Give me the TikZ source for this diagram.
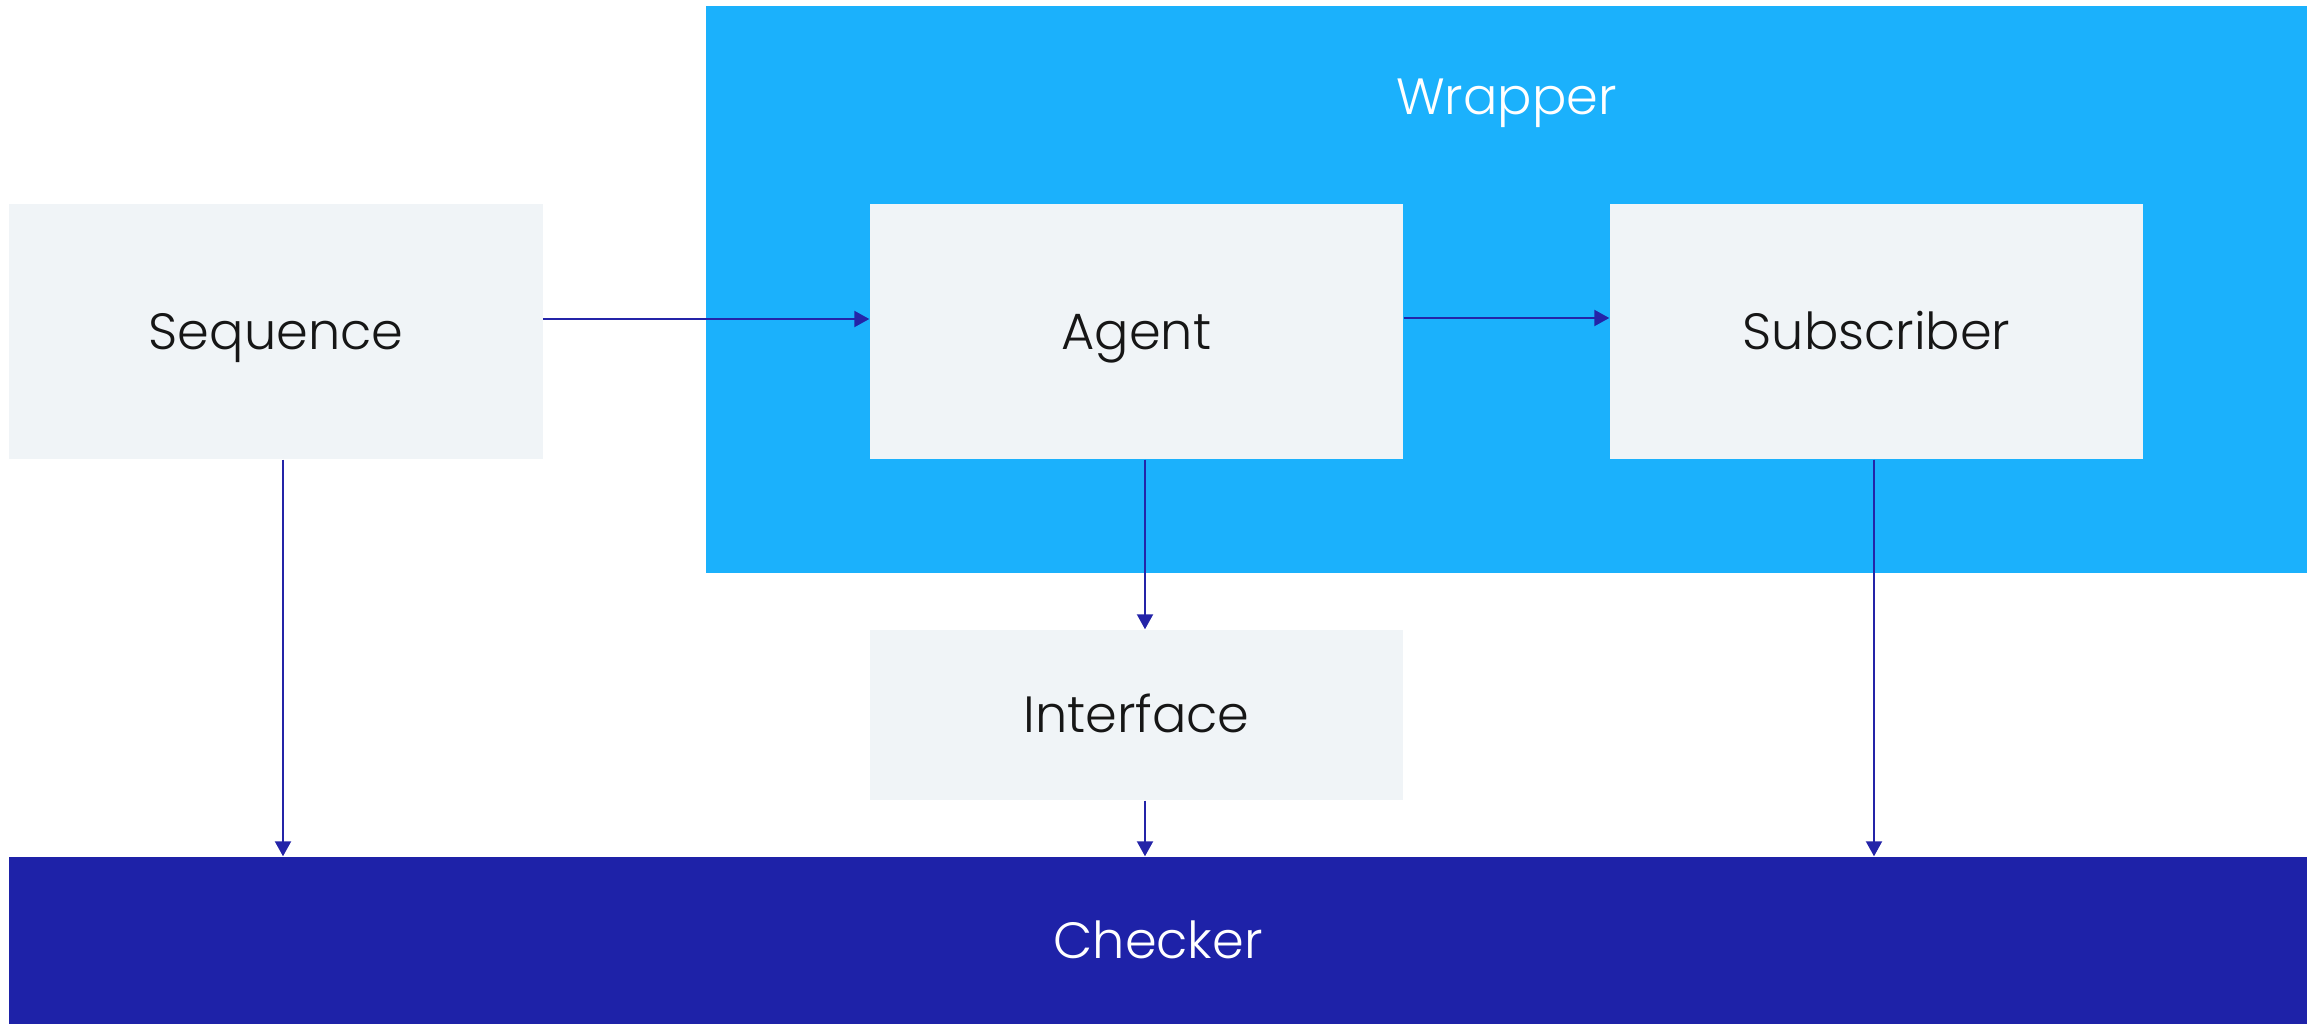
\documentclass[tikz,border=0pt]{standalone}
\usepackage{fontspec}
\setmainfont{Poppins}[UprightFont=* Light]
\usepackage{tikz}
\usetikzlibrary{arrows.meta}
\definecolor{WrapBlue}{HTML}{1BB1FC}
\definecolor{CheckBlue}{HTML}{1E22A8}
\definecolor{FlowBlue}{HTML}{2424A8}
\definecolor{BoxGray}{HTML}{F0F4F7}
\definecolor{Ink}{HTML}{161616}

\begin{document}
\begin{tikzpicture}[every node/.style={font=\fontsize{14.5}{17}\selectfont, inner sep=0pt, text height=10.1pt, text depth=0pt},
  block/.style={fill=BoxGray, text=Ink, minimum width=5.33cm, minimum height=2.55cm},
  flow/.style={-{Triangle[length=1.5mm, width=1.6mm]}, FlowBlue, line width=0.6pt}]
  \useasboundingbox (0,0) rectangle (23.2,10.24);
  % wrapper area and its title
  \fill[WrapBlue] (7.06,4.51) rectangle (23.07,10.18);
  \node[text=white] (wraptitle) at (15.065,9.27) {Wrapper};
  % boxes
  \node[block] (seq) at (2.76,6.925) {Sequence};
  \node[block] (agent) at (11.365,6.925) {Agent};
  \node[block] (sub) at (18.765,6.925) {Subscriber};
  \node[block, minimum height=1.70cm] (iface) at (11.365,3.09) {Interface};
  \node[fill=CheckBlue, text=white, minimum width=22.98cm, minimum height=1.67cm] (check) at (11.58,0.835) {Checker};
  % connectors
  \draw[flow] ([yshift=1.25mm]seq.east) -- ([yshift=1.25mm]agent.west);
  \draw[flow] ([yshift=1.35mm]agent.east) -- ([yshift=1.35mm]sub.west);
  \draw[flow] ([xshift=0.85mm]agent.south) -- ([xshift=0.85mm]iface.north);
  \draw[flow] ([xshift=0.85mm]iface.south) -- ([xshift=0.85mm]iface.south |- check.north);
  \draw[flow] ([xshift=0.7mm]seq.south) -- ([xshift=0.7mm]seq.south |- check.north);
  \draw[flow] ([xshift=-0.25mm]sub.south) -- ([xshift=-0.25mm]sub.south |- check.north);
\end{tikzpicture}
\end{document}
